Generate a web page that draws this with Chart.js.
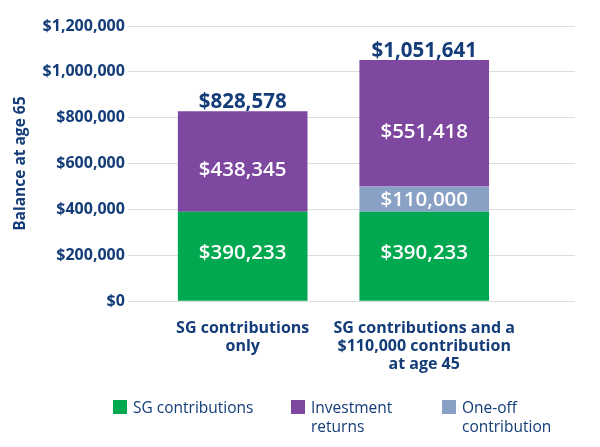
<!DOCTYPE html>
<html>
<head>
<meta charset="utf-8">
<script src="https://cdn.jsdelivr.net/npm/chart.js@4"></script>
<style>
  body { margin: 0; background: #fff; font-family: "Open Sans", sans-serif; }
  #wrap { position: relative; width: 600px; height: 447px; }
  #legend { position: absolute; left: 113px; top: 398px; display: flex; color: #133c78; font-size: 15.5px; line-height: 19px; }
  .item { display: flex; align-items: flex-start; }
  .box { width: 14px; height: 14px; margin: 2px 6px 0 0; flex: none; }
</style>
</head>
<body>
<div id="wrap">
  <canvas id="chart" width="600" height="447"></canvas>
  <div id="legend"></div>
</div>
<script>
// Data
const categories = [["SG contributions", "only"], ["SG contributions and a", "$110,000 contribution", "at age 45"]];
const sgValues = [390233, 390233];
const oneOffValues = [0, 110000];
const returnsValues = [438345, 551418];
const totalValues = [828578, 1051641];
const yTicks = [0, 200000, 400000, 600000, 800000, 1000000, 1200000];

const NAVY = "#133c78";
const GRID = "#dddddd";

const datasets = [
  { label: "SG contributions", data: sgValues, backgroundColor: "#00a94f", labelShift: -3 },
  { label: "One-off contribution", data: oneOffValues, backgroundColor: "#8aa1c6", labelShift: 1 },
  { label: "Investment returns", data: returnsValues, backgroundColor: "#7e47a0", labelShift: 9 },
];

const money = (v) => "$" + v.toLocaleString("en-US");

// Value labels inside and on top of the bars
const barLabels = {
  id: "barLabels",
  afterDatasetsDraw(chart) {
    const ctx = chart.ctx;
    ctx.save();
    ctx.textAlign = "center";
    ctx.textBaseline = "middle";
    ctx.fillStyle = "#fff";
    ctx.font = "600 20.5px 'Open Sans'";
    chart.data.datasets.forEach((ds, d) => {
      chart.getDatasetMeta(d).data.forEach((el, i) => {
        if (!ds.data[i]) return;
        ctx.fillText(money(ds.data[i]), el.x, (el.y + el.base) / 2 + ds.labelShift);
      });
    });
    // totals
    const y = chart.scales.y;
    ctx.fillStyle = NAVY;
    ctx.font = "bold 20.5px 'Open Sans'";
    ctx.textBaseline = "bottom";
    totalValues.forEach((total, i) => {
      const x = chart.getDatasetMeta(0).data[i].x;
      ctx.fillText(money(total), x, y.getPixelForValue(total) + 1);
    });
    ctx.restore();
  },
};

new Chart(document.getElementById("chart"), {
  type: "bar",
  data: { labels: categories, datasets },
  plugins: [barLabels],
  options: {
    responsive: false,
    animation: false,
    layout: { padding: { top: 26, left: 11, right: 25, bottom: 63 } },
    plugins: { legend: { display: false }, tooltip: { enabled: false } },
    datasets: { bar: { categoryPercentage: 1, barPercentage: 0.714 } },
    scales: {
      x: {
        stacked: true,
        grid: { display: false },
        border: { display: false },
        ticks: { color: NAVY, padding: 10, autoSkip: false, font: { family: "Open Sans", size: 16, weight: "bold", lineHeight: 1.14 }, maxRotation: 0 },
      },
      y: {
        stacked: true,
        min: 0,
        max: 1200000,
        afterBuildTicks: (s) => { s.ticks = yTicks.map((v) => ({ value: v })); },
        grid: { color: GRID, tickLength: 24, tickColor: GRID },
        border: { display: false },
        ticks: { color: NAVY, padding: 3, font: { family: "Open Sans", size: 16, weight: "bold" }, callback: (v) => money(v) },
        title: { display: true, text: "Balance at age 65", color: NAVY, padding: { top: 0, bottom: 10 }, font: { family: "Open Sans", size: 15.5, weight: "bold" } },
      },
      y2: {
        position: "right",
        min: 0,
        max: 1200000,
        afterBuildTicks: (s) => { s.ticks = yTicks.map((v) => ({ value: v })); },
        grid: { drawOnChartArea: false, tickLength: 60, tickColor: GRID },
        border: { display: false },
        ticks: { display: false },
      },
    },
  },
});

// Legend in display order
const legendOrder = [
  { text: ["SG contributions"], color: "#00a94f", width: 178 },
  { text: ["Investment", "returns"], color: "#7e47a0", width: 151 },
  { text: ["One-off", "contribution"], color: "#8aa1c6", width: 140 },
];
const legend = document.getElementById("legend");
legendOrder.forEach((it) => {
  const el = document.createElement("div");
  el.className = "item";
  el.style.width = it.width + "px";
  el.innerHTML = `<span class="box" style="background:${it.color}"></span><span>${it.text.join("<br>")}</span>`;
  legend.appendChild(el);
});
</script>
</body>
</html>
